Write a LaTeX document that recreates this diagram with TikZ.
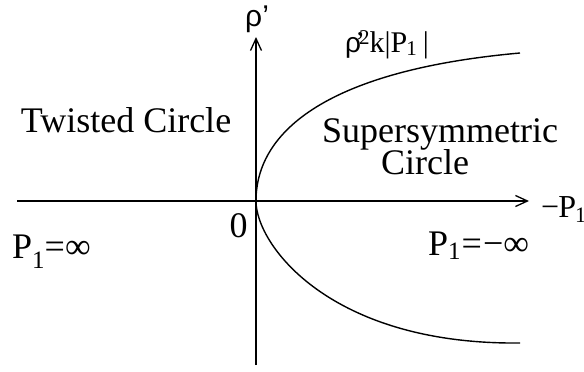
\documentclass[tikz,border=0pt]{standalone}
\usepackage{fontspec}
\setmainfont{Liberation Serif}
\newfontfamily\rhof{Liberation Sans}
\usetikzlibrary{arrows.meta}
\tikzset{
  lbl/.style={inner sep=0pt, font=\fontsize{36}{36}\selectfont},
  smalllbl/.style={inner sep=0pt, font=\fontsize{30}{30}\selectfont},
  axis/.style={line width=1.4pt, -{Straight Barb[length=12pt,width=11pt,line width=1.3pt]}},
  branch/.style={line width=1.4pt}
}
\newcommand{\subone}[1]{\raisebox{#1}{\fontsize{25}{25}\selectfont 1}}
\begin{document}
\begin{tikzpicture}[x=1pt,y=-1pt]
\useasboundingbox (0,0) rectangle (584,372);
\coordinate (xs) at (17,201);
\coordinate (xe) at (529,201);
\coordinate (ys) at (256,365);
\coordinate (ye) at (256,37);
\coordinate (o) at (256,201);
\coordinate (ue) at (520,53);
\coordinate (le) at (520,343);
\draw[axis] (xs) -- (xe);
\draw[axis] (ys) -- (ye);
\draw[branch] (ue) .. controls (330,70) and (256,130) .. (o)
  .. controls (256,245) and (330,345) .. (le);
\node[inner sep=0pt, anchor=base west, font=\rhof\fontsize{30}{30}\selectfont] (rho) at (245,26) {ρ’};
\node[smalllbl, anchor=base west] (rel) at (345,52) {{\rhof\fontsize{28}{28}\selectfont ρ}\kern-6pt\rlap{’}\kern4pt\raisebox{7pt}{\fontsize{21}{21}\selectfont 2}k|P\kern-1pt\raisebox{-3pt}{\fontsize{21}{21}\selectfont 1}\kern6pt|};
\node[lbl, anchor=base] (tw) at (126,132) {Twisted Circle};
\node[lbl, anchor=base] (ss) at (440,142) {Supersymmetric};
\node[lbl, anchor=base] (ci) at (425,174) {Circle};
\node[lbl, anchor=base] (zero) at (238.5,237) {0};
\node[inner sep=0pt, anchor=base west, font=\fontsize{32}{32}\selectfont] (mp) at (541,217) {−\kern-1ptP\kern-1pt\raisebox{-5pt}{\fontsize{22}{22}\selectfont 1}};
\node[lbl, anchor=base west] (pl) at (12,258) {P\subone{-10pt}=∞};
\node[lbl, anchor=base west] (pr) at (428,255) {P\subone{-4pt}\kern1pt=\kern1pt−∞};
\end{tikzpicture}
\end{document}
